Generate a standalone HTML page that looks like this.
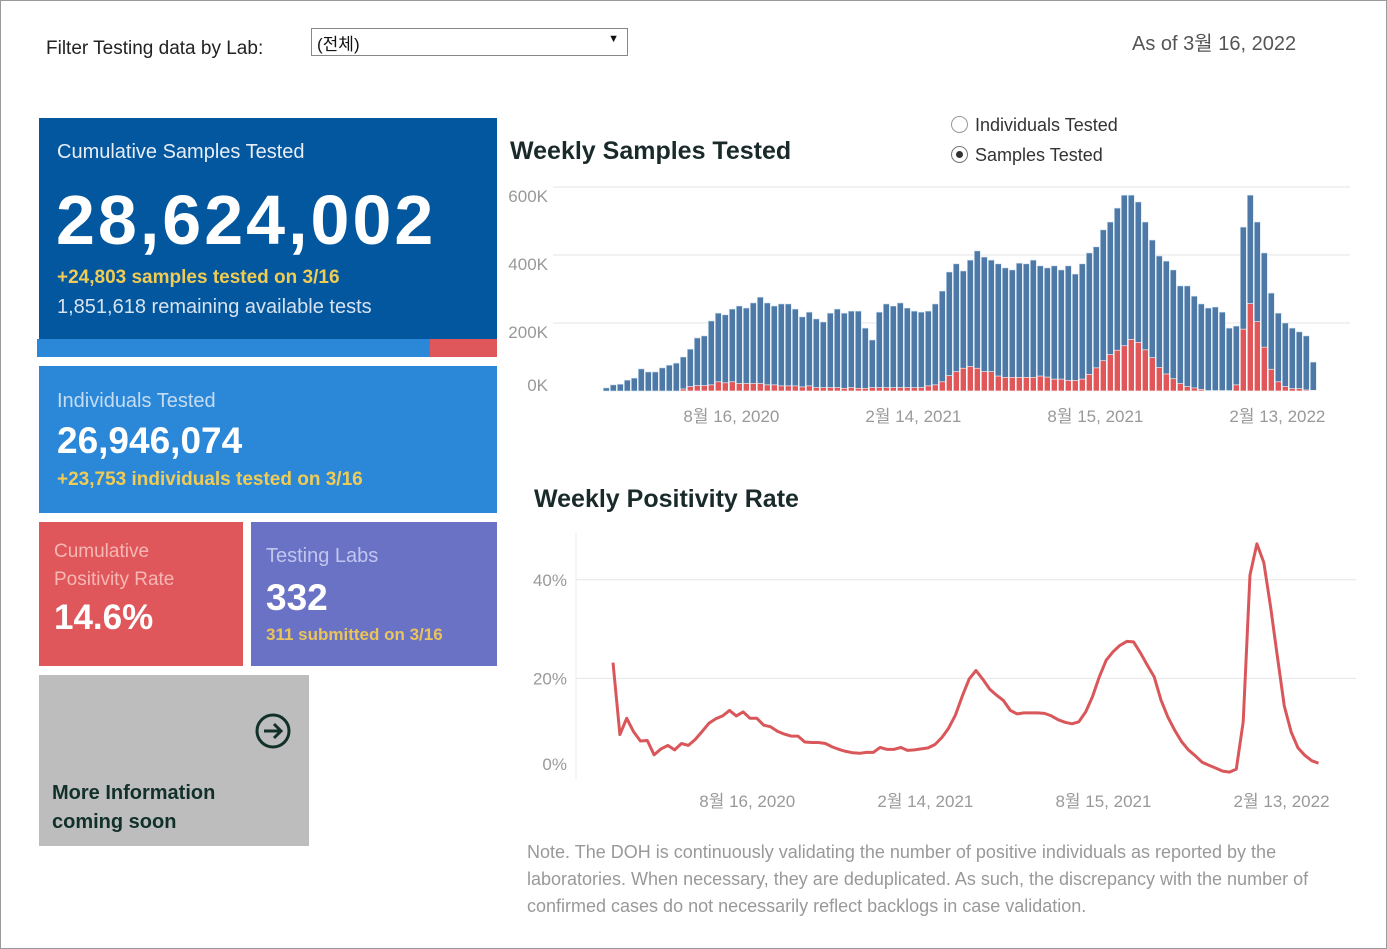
<!DOCTYPE html>
<html><head><meta charset="utf-8"><style>
body{margin:0;width:1387px;height:949px;overflow:hidden;background:#fff;font-family:"Liberation Sans","Noto Sans CJK KR",sans-serif;position:relative}
.frame{position:absolute;left:0;top:0;width:1385px;height:947px;border:1px solid #999}
.abs{position:absolute}
.box{position:absolute}
</style></head><body>
<div class="frame"></div>
<div class="abs" style="left:46px;top:38px;font-size:19px;color:#222">Filter Testing data by Lab:</div>
<div class="abs" style="left:311px;top:28px;width:317px;height:28px;border:1px solid #888;box-sizing:border-box;font-size:17px;color:#111;padding:1px 5px">(전체)<span style="position:absolute;right:8px;top:4px;font-size:11px">▼</span></div>
<div class="abs" style="left:1132px;top:27px;font-size:20px;color:#555">As of 3월 16, 2022</div>

<div class="box" style="left:39px;top:118px;width:458px;height:221px;background:#02579e;color:#fff">
 <div class="abs" style="left:18px;top:23px;font-size:20px;color:#e8eef6">Cumulative Samples Tested</div>
 <div class="abs" style="left:17px;top:62px;font-size:70px;font-weight:bold;letter-spacing:3px">28,624,002</div>
 <div class="abs" style="left:18px;top:149px;font-size:19px;font-weight:bold;color:#f0cc55">+24,803 samples tested on 3/16</div>
 <div class="abs" style="left:18px;top:178px;font-size:20px;color:#d8e2f0">1,851,618 remaining available tests</div>
</div>
<div class="box" style="left:37px;top:339px;width:393px;height:18px;background:#2b88d8"></div>
<div class="box" style="left:430px;top:339px;width:67px;height:18px;background:#df575b"></div>

<div class="box" style="left:39px;top:366px;width:458px;height:147px;background:#2b88d8;color:#fff">
 <div class="abs" style="left:18px;top:24px;font-size:20px;color:#c5dcf2">Individuals Tested</div>
 <div class="abs" style="left:18px;top:54px;font-size:37px;font-weight:bold">26,946,074</div>
 <div class="abs" style="left:18px;top:103px;font-size:19px;font-weight:bold;color:#f0cc55">+23,753 individuals tested on 3/16</div>
</div>

<div class="box" style="left:39px;top:522px;width:204px;height:144px;background:#e0575b;color:#fff">
 <div class="abs" style="left:15px;top:16px;font-size:19px;line-height:28px;color:#f6b7b4">Cumulative<br>Positivity Rate</div>
 <div class="abs" style="left:15px;top:76px;font-size:35px;font-weight:bold">14.6%</div>
</div>
<div class="box" style="left:251px;top:522px;width:246px;height:144px;background:#6a72c6;color:#fff">
 <div class="abs" style="left:15px;top:23px;font-size:20px;color:#c2c6ee">Testing Labs</div>
 <div class="abs" style="left:15px;top:55px;font-size:37px;font-weight:bold">332</div>
 <div class="abs" style="left:15px;top:103px;font-size:17px;font-weight:bold;color:#e9c45a">311 submitted on 3/16</div>
</div>
<div class="box" style="left:39px;top:675px;width:270px;height:171px;background:#bdbdbd;color:#12302a">
 <svg class="abs" style="left:216px;top:38px" width="36" height="36"><circle cx="18" cy="18" r="16" fill="none" stroke="#12302a" stroke-width="3"/><path d="M9 18H26M19 11L26 18L19 25" fill="none" stroke="#12302a" stroke-width="3"/></svg>
 <div class="abs" style="left:13px;top:104px;font-size:20px;font-weight:bold;line-height:29px">More Information<br>coming soon</div>
</div>

<div class="abs" style="left:510px;top:137px;font-size:25px;font-weight:bold;color:#1a2a2a">Weekly Samples Tested</div>
<div class="abs" style="left:951px;top:115px;font-size:18px;color:#333"><span style="display:inline-block;width:15px;height:15px;border:1px solid #999;border-radius:50%;vertical-align:-2px;margin-right:7px"></span>Individuals Tested</div>
<div class="abs" style="left:951px;top:145px;font-size:18px;color:#333"><span style="display:inline-block;width:15px;height:15px;border:1px solid #777;border-radius:50%;vertical-align:-2px;margin-right:7px;position:relative"><span style="position:absolute;left:4px;top:4px;width:7px;height:7px;border-radius:50%;background:#333"></span></span>Samples Tested</div>
<div class="abs" style="left:534px;top:485px;font-size:25px;font-weight:bold;color:#1a2a2a">Weekly Positivity Rate</div>
<div class="abs" style="left:527px;top:839px;width:840px;font-size:18px;line-height:27px;color:#999">Note. The DOH is continuously validating the number of positive individuals as reported by the laboratories. When necessary, they are deduplicated. As such, the discrepancy with the number of confirmed cases do not necessarily reflect backlogs in case validation.</div>

<svg id="charts" class="abs" style="left:0;top:0" width="1387" height="949"></svg>
<script>
const barTotals=[9,18,20,32,38,65,56,56,68,76,82,100,123,156,162,206,229,224,241,250,244,259,276,259,250,256,256,241,218,232,212,203,229,241,229,235,235,185,150,232,256,250,259,244,235,232,235,256,294,350,374,353,385,412,394,385,374,362,356,376,374,385,368,362,368,356,368,344,374,406,424,474,497,538,576,576,556,497,444,397,382,356,309,309,279,256,244,247,232,185,191,482,576,497,406,288,229,200,185,174,162,85];
const barPositives=[0,0,0,0,0,0,0,0,0,0,0,6,13,16,16,18,27,24,27,22,22,22,22,18,18,15,15,15,12,15,10,10,10,10,8,10,8,8,10,10,10,10,10,10,10,10,15,18,27,45,57,67,72,67,57,57,44,40,40,40,40,40,44,41,35,35,31,31,35,49,68,89,107,120,133,152,143,121,98,69,50,36,22,13,9,5,1,1,1,1,18,182,257,204,129,64,27,13,7,7,3,2];
const barYTicks=[0,200,400,600];
const barYLabels=["0K","200K","400K","600K"];
const barXTickIdx=[18.3,44.3,70.3,96.3];
const xTickLabels=["8월 16, 2020","2월 14, 2021","8월 15, 2021","2월 13, 2022"];
const posRate=[23.2,8.6,11.9,9.2,7.3,7.4,4.5,5.7,6.4,5.5,6.8,6.4,7.6,9.2,10.9,11.8,12.4,13.5,12.4,13.2,11.9,11.9,10.5,10.2,9.3,8.7,8.3,8.3,7.1,7.0,7.0,6.8,6.1,5.6,5.2,4.9,4.8,5.0,5.0,6.0,5.6,5.6,6.0,5.4,5.5,5.7,5.9,6.6,8.0,9.9,12.6,16.4,19.9,21.6,19.8,17.8,16.6,15.5,13.5,12.8,13.0,13.0,13.0,12.9,12.4,11.6,11.1,10.8,11.2,13.2,16.3,20.3,23.7,25.4,26.7,27.5,27.4,25.2,22.7,20.3,15.6,12.2,9.5,7.2,5.5,4.3,3.0,2.4,1.8,1.2,1.0,1.6,11.2,41.0,47.3,43.5,34.5,24.4,14.4,9.1,5.9,4.4,3.3,2.8];
const lineYTicks=[0,20,40];
const lineYLabels=["0%","20%","40%"];
const lineXTickIdx=[19.6,45.6,71.6,97.6];

const svg=document.getElementById('charts');
const NS='http://www.w3.org/2000/svg';
function mk(tag,attrs){const e=document.createElementNS(NS,tag);for(const k in attrs)e.setAttribute(k,attrs[k]);svg.appendChild(e);return e;}
const bx=i=>603.3+7*i;
const by=v=>391-v*0.34;
barYTicks.forEach((t,k)=>{
 if(t>0){const g=mk('line',{x1:553,x2:1350,y1:by(t),y2:by(t),stroke:'#e6e6e6','stroke-width':1});
 
 }
 const tx=mk('text',{x:548,y:(t===0?by(t)-6:by(t)+9)+6,'text-anchor':'end','font-size':17,fill:'#999','font-family':'Liberation Sans, sans-serif'});
 tx.textContent=barYLabels[k];
 
 
});
barTotals.forEach((v,i)=>{
 const r=mk('rect',{x:bx(i),y:by(v),width:6,height:by(0)-by(v),fill:'#4e79a7',stroke:'#d3e4f2','stroke-width':0.6});
 
 
 const p=barPositives[i];
 if(p>0){const q=mk('rect',{x:bx(i),y:by(p),width:6,height:by(0)-by(p),fill:'#e15759',stroke:'#fff','stroke-width':0.6});
 
 }
});
barXTickIdx.forEach((ix,k)=>{
 const t=mk('text',{x:bx(ix),y:422,'text-anchor':'middle','font-size':17,fill:'#999','font-family':'Liberation Sans, Noto Sans CJK KR, sans-serif'});
 t.textContent=xTickLabels[k];
 
 
});
const lx=i=>613+6.85*i;
const ly=v=>777-v*4.93;
const ax=mk('line',{x1:576,x2:576,y1:532,y2:780,stroke:'#eee','stroke-width':1});


lineYTicks.forEach((t,k)=>{
 if(t>0){const g=mk('line',{x1:576,x2:1356,y1:ly(t),y2:ly(t),stroke:'#e6e6e6','stroke-width':1});
 
 }
 const tx=mk('text',{x:567,y:(t===0?770:ly(t)+6),'text-anchor':'end','font-size':17,fill:'#999','font-family':'Liberation Sans, sans-serif'});
 tx.textContent=lineYLabels[k];
 
 
});
const pl=mk('polyline',{points:posRate.map((v,i)=>lx(i).toFixed(1)+','+ly(v).toFixed(1)).join(' '),fill:'none',stroke:'#d9575a','stroke-width':3,'stroke-linejoin':'round'});


lineXTickIdx.forEach((ix,k)=>{
 const t=mk('text',{x:lx(ix),y:807,'text-anchor':'middle','font-size':17,fill:'#999','font-family':'Liberation Sans, Noto Sans CJK KR, sans-serif'});
 t.textContent=xTickLabels[k];
 
 
});
</script>
</body></html>
